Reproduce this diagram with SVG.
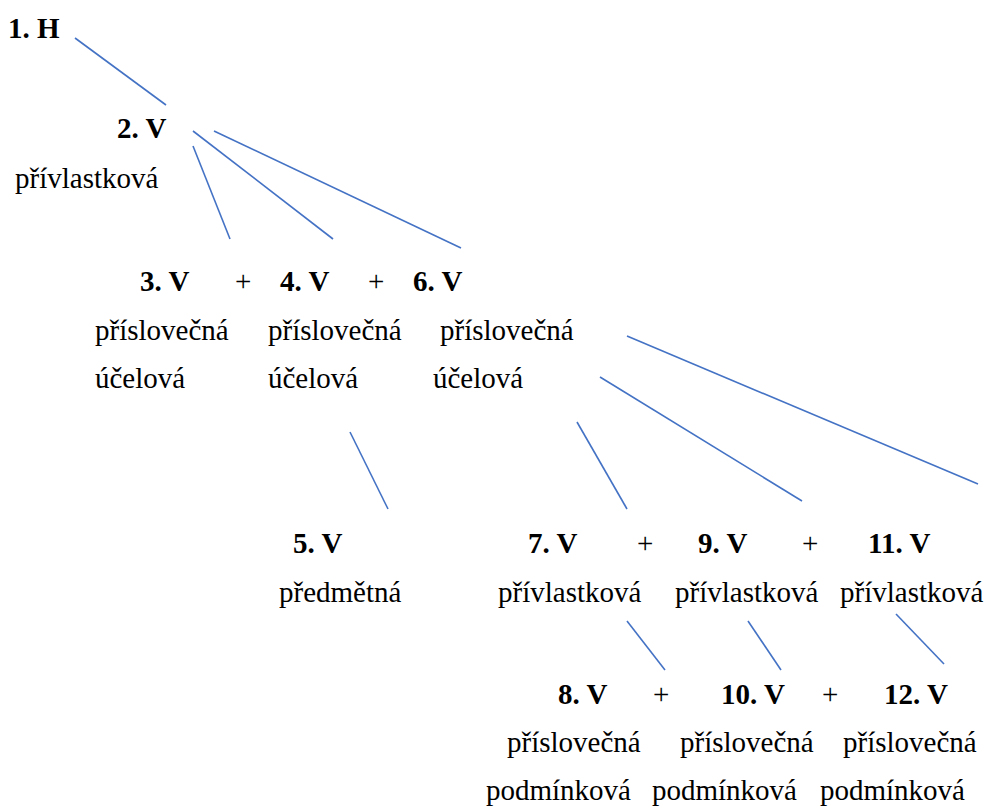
<svg xmlns="http://www.w3.org/2000/svg" width="998" height="810" viewBox="0 0 998 810">
<style>
text{font-family:Liberation Serif,DejaVu Serif,Times New Roman,serif;font-size:29px;fill:#000}
.b{font-weight:bold}
.c line{stroke:#4472C4;stroke-width:1.6;fill:none}
</style>
<rect width="998" height="810" fill="#fff"/>
<g id="connectors" class="c">
<line x1="75" y1="38" x2="166" y2="105"/>
<line x1="193" y1="146" x2="230" y2="239"/>
<line x1="193" y1="131" x2="333" y2="239"/>
<line x1="214" y1="131" x2="461" y2="248"/>
<line x1="350" y1="432" x2="388" y2="509"/>
<line x1="577" y1="422" x2="627" y2="509"/>
<line x1="600" y1="377" x2="802" y2="501"/>
<line x1="627" y1="336" x2="978" y2="484"/>
<line x1="627" y1="621" x2="665" y2="670"/>
<line x1="748" y1="621" x2="781" y2="670"/>
<line x1="896" y1="614" x2="944" y2="664"/>
</g>
<g id="n1"><text class="b" x="8" y="38">1. H</text></g>
<g id="n2"><text class="b" x="117" y="138">2. V</text><text x="15" y="188">přívlastková</text></g>
<g id="n3"><text class="b" x="140" y="291">3. V</text><text x="95" y="340">příslovečná</text><text x="95" y="388">účelová</text></g>
<g id="n4"><text class="b" x="280" y="291">4. V</text><text x="268" y="340">příslovečná</text><text x="268" y="388">účelová</text></g>
<g id="n6"><text class="b" x="413" y="291">6. V</text><text x="440" y="340">příslovečná</text><text x="433" y="388">účelová</text></g>
<g id="n5"><text class="b" x="293" y="553">5. V</text><text x="279" y="602">předmětná</text></g>
<g id="n7"><text class="b" x="528" y="553">7. V</text><text x="498" y="602">přívlastková</text></g>
<g id="n9"><text class="b" x="698" y="553">9. V</text><text x="675" y="602">přívlastková</text></g>
<g id="n11"><text class="b" x="868" y="553">11. V</text><text x="840" y="602">přívlastková</text></g>
<g id="n8"><text class="b" x="558" y="704">8. V</text><text x="507" y="752">příslovečná</text><text x="486" y="800">podmínková</text></g>
<g id="n10"><text class="b" x="721" y="704">10. V</text><text x="680" y="752">příslovečná</text><text x="652" y="800">podmínková</text></g>
<g id="n12"><text class="b" x="884" y="704">12. V</text><text x="843" y="752">příslovečná</text><text x="820" y="800">podmínková</text></g>
<g id="plus">
<text x="235" y="291">+</text><text x="368" y="291">+</text>
<text x="637" y="553">+</text><text x="802" y="553">+</text>
<text x="653" y="704">+</text><text x="822" y="704">+</text>
</g>
</svg>
